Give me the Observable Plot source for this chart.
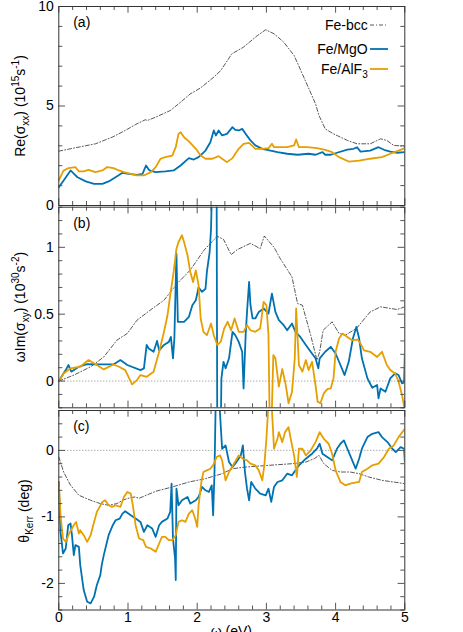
<!DOCTYPE html>
<html><head><meta charset="utf-8">
<script src="https://cdn.jsdelivr.net/npm/d3@7"></script>
<script src="https://cdn.jsdelivr.net/npm/@observablehq/plot@0.6"></script>
<style>
html,body{margin:0;padding:0;overflow:hidden;background:#fff;}
#wrap{position:relative;width:463px;height:632px;overflow:hidden;font-family:"Liberation Sans",Arial,Helvetica,sans-serif;color:#000;}
.panel{position:absolute;left:0;}
.ylab,.xlab,.leg{position:absolute;white-space:nowrap;font-size:14px;line-height:14px;}
.ylab{transform:translate(-50%,-50%) rotate(-90deg);}
.xlab{transform:translateX(-50%);}
sub,sup{font-size:10px;line-height:0;}
</style></head>
<body><div id="wrap"></div>
<script>
// ---------- data ----------
const xMajor = [0,1,2,3,4,5];
const xMinor = d3.range(0, 5.001, 0.2).map(v => +v.toFixed(1)).filter(v => !xMajor.includes(v));
const aMajor = [0,5,10];
const bMajor = [0,0.5,1];
const cMajor = [-2,-1,0];
const seriesNames = ["Fe-bcc","Fe/MgO","Fe/AlF<sub>3</sub>"];
const seriesColors = ["#222","#0072B2","#E69F00"];

// (a) Re(sigma_xx)
const reBcc = [[0,2.73],[0.24,2.9],[0.53,3.1],[0.77,3.43],[0.96,3.77],[1.11,4.07],[1.25,4.31],[1.28,4.27],[1.42,4.47],[1.61,4.77],[1.76,5.19],[1.9,5.61],[2.05,5.91],[2.24,6.45],[2.34,6.78],[2.5,7.62],[2.67,7.96],[2.87,8.54],[2.99,8.83],[3.11,8.63],[3.25,8.21],[3.4,7.54],[3.54,6.45],[3.71,5.11],[3.76,4.52],[3.85,3.85],[3.97,3.6],[4.17,3.27],[4.31,3.1],[4.5,3.1],[4.65,3.35],[4.74,3.27],[4.84,3.02],[5,2.98]];
const reMgO = [[0,0.92],[0.07,1.26],[0.17,1.76],[0.22,1.59],[0.27,1.42],[0.39,1.21],[0.51,1.09],[0.63,1.09],[0.72,1.21],[0.82,1.42],[0.92,1.64],[1.01,1.59],[1.13,1.54],[1.21,1.59],[1.26,2.01],[1.31,1.76],[1.4,1.68],[1.54,1.71],[1.66,1.76],[1.76,2.01],[1.88,2.38],[1.95,2.31],[2.02,2.43],[2.12,2.76],[2.19,3.18],[2.24,3.77],[2.27,3.52],[2.31,3.77],[2.36,3.52],[2.43,3.6],[2.51,3.94],[2.55,3.8],[2.6,3.77],[2.65,3.85],[2.7,3.6],[2.77,3.27],[2.84,3.02],[2.94,2.85],[3.06,2.76],[3.16,2.68],[3.3,2.6],[3.45,2.55],[3.61,2.6],[3.71,2.55],[3.81,2.68],[3.85,2.55],[3.93,2.55],[4.02,2.65],[4.17,2.81],[4.26,2.85],[4.31,2.93],[4.36,2.71],[4.5,2.76],[4.62,2.93],[4.7,2.8],[4.79,2.71],[4.89,2.65],[5,2.68]];
const reAlF = [[0,1.26],[0.07,1.76],[0.14,1.88],[0.24,1.93],[0.29,1.71],[0.36,1.71],[0.43,1.79],[0.53,1.68],[0.63,1.76],[0.7,1.93],[0.79,1.88],[0.87,1.76],[0.94,1.68],[1.04,1.59],[1.13,1.51],[1.23,1.51],[1.33,1.68],[1.4,1.93],[1.47,2.35],[1.54,2.43],[1.64,2.51],[1.69,2.93],[1.73,3.6],[1.76,3.68],[1.81,3.43],[1.88,3.22],[1.98,2.85],[2.05,2.51],[2.12,2.35],[2.22,2.35],[2.31,2.48],[2.36,2.35],[2.43,2.18],[2.51,2.38],[2.55,2.6],[2.6,2.85],[2.67,3.1],[2.75,3.15],[2.79,3.02],[2.84,2.85],[2.94,2.85],[3.03,2.88],[3.08,3.1],[3.11,2.93],[3.2,2.93],[3.3,2.93],[3.4,3.02],[3.43,3.32],[3.47,2.93],[3.59,2.93],[3.73,2.88],[3.85,2.8],[3.95,2.68],[4.05,2.43],[4.19,2.21],[4.34,2.26],[4.5,2.35],[4.67,2.43],[4.79,2.6],[4.91,2.76],[5,2.88]];

// (b) omega Im(sigma_xy)
const imBcc = [[0,0],[0.22,0.045],[0.46,0.107],[0.65,0.18],[0.84,0.306],[0.99,0.356],[1.13,0.455],[1.32,0.53],[1.52,0.604],[1.71,0.729],[1.9,0.83],[2.1,0.98],[2.29,1.082],[2.38,1.06],[2.49,0.945],[2.58,0.983],[2.77,1.03],[2.91,0.99],[2.97,1.085],[3.11,1.0],[3.2,0.916],[3.37,0.778],[3.45,0.58],[3.52,0.567],[3.64,0.343],[3.73,0.157],[3.77,0.219],[3.82,0.38],[3.95,0.443],[4.05,0.356],[4.14,0.343],[4.3,0.393],[4.5,0.517],[4.65,0.555],[4.79,0.543],[4.89,0.535],[5,0.555]];
const imMgO = [[0,0],[0.1,0.082],[0.14,0.12],[0.18,0.07],[0.29,0.107],[0.41,0.127],[0.6,0.124],[0.79,0.124],[0.89,0.157],[0.99,0.12],[1.18,0.082],[1.23,0.095],[1.27,0.27],[1.3,0.244],[1.37,0.219],[1.42,0.3],[1.45,0.23],[1.52,0.27],[1.59,0.293],[1.62,0.33],[1.65,0.17],[1.67,0.318],[1.7,0.953],[1.72,0.443],[1.81,0.443],[1.88,0.48],[1.93,0.567],[1.98,0.604],[2.02,0.7],[2.07,0.667],[2.12,0.69],[2.14,0.816],[2.18,0.965],[2.2,1.14],[2.22,1.6],[2.28,1.6],[2.29,-0.4],[2.34,-0.4],[2.35,0.02],[2.38,0.144],[2.41,0.095],[2.46,0.17],[2.51,0.368],[2.55,0.343],[2.6,0.293],[2.65,0.219],[2.67,-0.055],[2.7,0.343],[2.72,0.517],[2.75,0.741],[2.77,0.567],[2.8,0.468],[2.84,0.468],[2.89,0.517],[2.96,0.543],[3.03,0.505],[3.08,0.654],[3.13,0.517],[3.18,0.455],[3.25,0.418],[3.3,0.38],[3.37,0.43],[3.42,0.368],[3.49,0.33],[3.57,0.27],[3.64,0.219],[3.71,0.17],[3.75,0.095],[3.77,0.17],[3.85,0.219],[3.93,0.256],[4.0,0.206],[4.07,0.12],[4.13,0.045],[4.19,0.144],[4.25,0.318],[4.3,0.405],[4.34,0.318],[4.38,0.17],[4.46,0.02],[4.53,-0.05],[4.6,-0.03],[4.62,-0.13],[4.65,-0.055],[4.72,-0.08],[4.79,0.02],[4.86,0.057],[4.91,0.045],[4.96,-0.017],[4.99,-0.01],[5,0.194]];
const imAlF = [[0,0],[0.07,0.057],[0.17,0.095],[0.31,0.107],[0.43,0.157],[0.55,0.12],[0.65,0.087],[0.79,0.124],[0.87,0.107],[0.96,0.082],[1.06,-0.025],[1.13,0.007],[1.18,0.045],[1.27,0.032],[1.37,0.07],[1.45,0.219],[1.52,0.368],[1.57,0.49],[1.61,0.64],[1.66,0.816],[1.7,0.99],[1.73,1.04],[1.78,1.09],[1.81,1.04],[1.86,0.94],[1.9,0.816],[1.94,0.741],[1.98,0.828],[2.02,0.716],[2.05,0.468],[2.09,0.368],[2.14,0.343],[2.2,0.43],[2.24,0.343],[2.29,0.27],[2.34,0.293],[2.39,0.393],[2.44,0.443],[2.49,0.38],[2.54,0.468],[2.6,0.368],[2.67,0.368],[2.72,0.418],[2.77,0.38],[2.84,0.368],[2.91,0.393],[2.96,0.592],[3.0,0.567],[3.03,0.343],[3.05,-0.4],[3.07,-0.4],[3.1,0.194],[3.13,0.17],[3.18,-0.042],[3.23,0.09],[3.28,-0.03],[3.32,-0.166],[3.37,-0.08],[3.41,0.17],[3.43,0.543],[3.47,0.12],[3.52,0.07],[3.57,0.157],[3.61,0.082],[3.66,0.144],[3.71,-0.03],[3.74,-0.154],[3.78,-0.166],[3.83,-0.092],[3.88,-0.06],[3.93,-0.055],[3.97,0.02],[4.0,0.219],[4.05,0.318],[4.1,0.355],[4.17,0.33],[4.24,0.306],[4.32,0.31],[4.36,0.28],[4.41,0.23],[4.5,0.219],[4.6,0.18],[4.67,0.219],[4.74,0.12],[4.79,0.082],[4.86,0.057],[4.91,-0.005],[4.96,-0.104],[5,-0.22]];

// (c) theta_Kerr
const kBcc = [[0,-0.1],[0.07,-0.325],[0.17,-0.525],[0.29,-0.675],[0.46,-0.75],[0.6,-0.8],[0.72,-0.825],[0.84,-0.8],[0.92,-0.75],[1.02,-0.715],[1.1,-0.7],[1.16,-0.72],[1.4,-0.615],[1.64,-0.55],[1.88,-0.475],[2.12,-0.425],[2.36,-0.35],[2.51,-0.275],[2.7,-0.25],[3.03,-0.225],[3.37,-0.2],[3.57,-0.175],[3.69,-0.125],[3.76,-0.075],[3.83,-0.2],[3.95,-0.3],[4.07,-0.325],[4.21,-0.325],[4.34,-0.35],[4.48,-0.4],[4.67,-0.45],[5,-0.5]];
const kMgO = [[0,-0.475],[0.025,-1.225],[0.06,-1.55],[0.1,-1.475],[0.136,-1.125],[0.17,-1.1],[0.19,-1.275],[0.217,-1.575],[0.24,-1.425],[0.29,-1.45],[0.31,-1.725],[0.36,-2.1],[0.41,-2.275],[0.46,-2.3],[0.51,-2.2],[0.55,-2.025],[0.6,-1.875],[0.62,-1.725],[0.65,-1.575],[0.72,-1.275],[0.78,-1.125],[0.82,-1.05],[0.88,-1.025],[0.92,-0.95],[0.96,-0.915],[1.04,-0.975],[1.11,-1.025],[1.18,-1.075],[1.23,-1.225],[1.28,-1.125],[1.35,-1.175],[1.4,-1.3],[1.45,-1.125],[1.49,-1.075],[1.57,-1.025],[1.61,-0.925],[1.63,-0.5],[1.65,-1.325],[1.68,-1.625],[1.69,-1.95],[1.7,-0.575],[1.73,-0.825],[1.78,-0.75],[1.86,-0.7],[1.9,-0.8],[1.98,-0.75],[2.02,-0.7],[2.07,-0.55],[2.12,-0.6],[2.17,-0.625],[2.21,-0.525],[2.23,-0.975],[2.25,-0.325],[2.27,0.9],[2.31,0.9],[2.34,0.375],[2.36,0.025],[2.41,0.075],[2.46,-0.175],[2.51,-0.25],[2.55,-0.2],[2.63,-0.075],[2.66,0.075],[2.69,-0.325],[2.72,-0.575],[2.75,-0.75],[2.78,-0.475],[2.84,-0.575],[2.91,-0.65],[2.99,-0.675],[3.03,-0.575],[3.07,-0.775],[3.11,-0.55],[3.16,-0.475],[3.23,-0.45],[3.3,-0.35],[3.37,-0.375],[3.42,-0.3],[3.47,-0.225],[3.57,-0.125],[3.66,-0.05],[3.73,0.025],[3.77,0.1],[3.81,-0.05],[3.88,-0.1],[3.95,-0.15],[4.02,0.025],[4.07,0.1],[4.12,0.15],[4.17,0.025],[4.23,-0.125],[4.29,-0.275],[4.34,-0.125],[4.38,0.025],[4.46,0.2],[4.53,0.25],[4.62,0.275],[4.67,0.2],[4.75,0.125],[4.82,0.025],[4.87,-0.025],[4.94,0.05],[4.99,0.025],[5,-0.175]];
const kAlF = [[0,-0.475],[0.025,-0.975],[0.06,-1.325],[0.1,-1.375],[0.15,-1.25],[0.217,-1.125],[0.25,-1.075],[0.29,-1.25],[0.31,-1.2],[0.36,-1.275],[0.41,-1.375],[0.46,-1.275],[0.51,-1.075],[0.55,-0.925],[0.63,-0.775],[0.67,-0.75],[0.72,-0.825],[0.77,-0.85],[0.82,-0.825],[0.89,-0.85],[0.94,-0.7],[0.99,-0.625],[1.04,-0.65],[1.07,-0.825],[1.11,-1.125],[1.16,-1.325],[1.22,-1.35],[1.26,-1.45],[1.33,-1.475],[1.4,-1.525],[1.45,-1.4],[1.49,-1.3],[1.54,-1.3],[1.59,-1.35],[1.64,-1.35],[1.69,-1.275],[1.73,-1.075],[1.78,-1.05],[1.83,-1.075],[1.88,-0.95],[1.93,-0.9],[1.97,-1.025],[2.0,-1.15],[2.02,-0.825],[2.06,-0.475],[2.09,-0.325],[2.14,-0.3],[2.19,-0.275],[2.23,-0.225],[2.28,-0.1],[2.33,-0.075],[2.36,-0.15],[2.41,-0.45],[2.46,-0.325],[2.53,-0.2],[2.6,-0.075],[2.66,-0.125],[2.72,-0.15],[2.77,-0.2],[2.84,-0.225],[2.89,-0.3],[2.94,-0.45],[2.97,-0.225],[3.0,0.175],[3.02,0.525],[3.03,0.8],[3.07,0.8],[3.11,0.025],[3.16,0.175],[3.18,0.275],[3.23,0.125],[3.27,0.275],[3.32,0.35],[3.37,0.075],[3.4,-0.075],[3.44,-0.4],[3.47,0.025],[3.52,0.025],[3.57,-0.075],[3.64,0],[3.71,0.125],[3.77,0.275],[3.83,0.175],[3.9,0.1],[3.95,-0.05],[4.0,-0.3],[4.07,-0.475],[4.14,-0.525],[4.21,-0.5],[4.34,-0.475],[4.38,-0.325],[4.46,-0.275],[4.53,-0.225],[4.62,-0.2],[4.7,-0.1],[4.77,0.025],[4.84,0.075],[4.91,0.2],[5,0.325]];

// ---------- layout ----------
const W = 463, ML = 58.3, MR = 58.7;
const frameW = W - ML - MR;
const wrap = d3.select("#wrap");
const tickCol = "#555", frameCol = "#333";

function minorOf(domain, step, majors) {
  const out = [];
  for (let v = domain[0]; v <= domain[1] + 1e-9; v += step) {
    const r = +v.toFixed(2);
    if (!majors.some(m => Math.abs(m - r) < 1e-9)) out.push(r);
  }
  return out;
}

function panel({top, height, mt, mb, domain, majors, minorStep, series, zero, tag, xAxis}) {
  const frameH = height - mt - mb;
  const yMinor = minorOf(domain, minorStep, majors);
  const styles = [
    {stroke: seriesColors[0], strokeWidth: 0.75, strokeDasharray: "4,2,1,2"},
    {stroke: seriesColors[1], strokeWidth: 1.8},
    {stroke: seriesColors[2], strokeWidth: 1.8}
  ];
  const marks = [];
  if (zero) marks.push(Plot.ruleY([0], {stroke: "#555", strokeWidth: 0.7, strokeDasharray: "1,2"}));
  series.forEach((s, i) => marks.push(Plot.line(s, {x: d => d[0], y: d => d[1], clip: true, ...styles[i]})));
  marks.push(
    Plot.tickX(xMajor, {x: d => d, insetTop: frameH - 6.7, stroke: tickCol}),
    Plot.tickX(xMajor, {x: d => d, insetBottom: frameH - 6.7, stroke: tickCol}),
    Plot.tickX(xMinor, {x: d => d, insetTop: frameH - 4, stroke: tickCol}),
    Plot.tickX(xMinor, {x: d => d, insetBottom: frameH - 4, stroke: tickCol}),
    Plot.tickY(majors, {y: d => d, insetRight: frameW - 6.7, stroke: tickCol}),
    Plot.tickY(majors, {y: d => d, insetLeft: frameW - 6.7, stroke: tickCol}),
    Plot.tickY(yMinor, {y: d => d, insetRight: frameW - 4, stroke: tickCol}),
    Plot.tickY(yMinor, {y: d => d, insetLeft: frameW - 4, stroke: tickCol}),
    Plot.frame({stroke: frameCol, strokeWidth: 1}),
    Plot.axisY({ticks: majors, tickSize: 0, tickPadding: 5, tickFormat: d => String(d), label: null, fill: "#000"}),
    Plot.text([tag], {frameAnchor: "top-left", text: d => d, dx: 14.4, dy: 16, textAnchor: "start", lineAnchor: "middle", fontSize: 14, fill: "#000"})
  );
  if (xAxis) marks.push(Plot.axisX({ticks: xMajor, tickSize: 0, tickPadding: 2, tickFormat: d => String(d), label: null, fill: "#000"}));
  const svg = Plot.plot({
    width: W, height, marginLeft: ML, marginRight: MR, marginTop: mt, marginBottom: mb,
    x: {domain: [0, 5], axis: xAxis ? undefined : null},
    y: {domain},
    style: {background: "transparent", overflow: "visible", fontFamily: '"Liberation Sans",Arial,Helvetica,sans-serif', fontSize: "14px", color: "#000"},
    marks
  });
  wrap.append("div").attr("class", "panel").style("top", top + "px").node().appendChild(svg);
}

panel({top: 0, height: 210, mt: 6, mb: 5, domain: [0, 10], majors: aMajor, minorStep: 1, series: [reBcc, reMgO, reAlF], zero: false, tag: "(a)"});
panel({top: 200, height: 215, mt: 6.7, mb: 7.7, domain: [-0.2, 1.3], majors: bMajor, minorStep: 0.1, series: [imBcc, imMgO, imAlF], zero: true, tag: "(b)"});
panel({top: 400, height: 232, mt: 10, mb: 22.5, domain: [-2.4, 0.6], majors: cMajor, minorStep: 0.2, series: [kBcc, kMgO, kAlF], zero: true, tag: "(c)", xAxis: true});

// axis titles
const yTitles = [
  {html: "Re(σ<sub>xx</sub>) (10<sup>15</sup>s<sup>-1</sup>)", cx: 20, cy: 105.5},
  {html: "ωIm(σ<sub>xy</sub>) (10<sup>30</sup>s<sup>-2</sup>)", cx: 20, cy: 307},
  {html: "θ<sub>Kerr</sub> (deg)", cx: 24, cy: 511}
];
yTitles.forEach(t => wrap.append("div").attr("class", "ylab").style("left", t.cx + "px").style("top", t.cy + "px").html(t.html));
wrap.append("div").attr("class", "xlab").style("left", "231.3px").style("top", "624px").html("ω (eV)");

// legend
const legY = [25, 48.5, 69];
const legStyles = [
  {w: 0.75, dash: "4,2,1,2"}, {w: 1.8, dash: null}, {w: 1.8, dash: null}
];
seriesNames.forEach((n, i) => {
  wrap.append("div").attr("class", "leg").style("right", (W - 367.7) + "px").style("top", (legY[i] - 6.85) + "px").html(n);
  const s = wrap.append("svg").style("position", "absolute").style("left", "369px").style("top", (legY[i] - 3) + "px")
    .attr("width", 20).attr("height", 6);
  s.append("line").attr("x1", 1).attr("x2", 19).attr("y1", 3).attr("y2", 3)
    .attr("stroke", seriesColors[i]).attr("stroke-width", legStyles[i].w)
    .attr("stroke-dasharray", legStyles[i].dash);
});
</script>
</body></html>
